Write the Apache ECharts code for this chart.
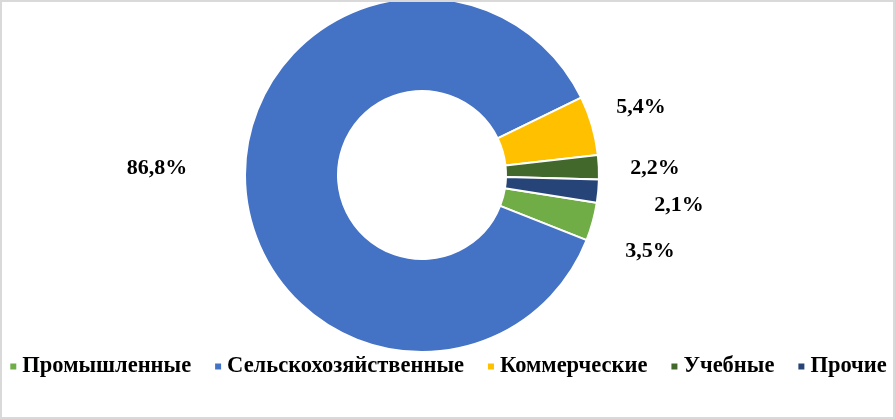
<!DOCTYPE html>
<html>
<head>
<meta charset="utf-8">
<script src="https://cdn.jsdelivr.net/npm/echarts@6/dist/echarts.min.js"></script>
<style>
html, body { margin: 0; padding: 0; background: #fff; }
#main { width: 891px; height: 415px; border: 2px solid #d9d9d9; }
</style>
</head>
<body>
<div id="main"></div>
<script>
// доли площадей по категориям, %
var categories = ['Промышленные', 'Сельскохозяйственные', 'Коммерческие', 'Учебные', 'Прочие'];
var shares = [3.5, 86.8, 5.4, 2.2, 2.1];
var colors = ['#70AD47', '#4472C4', '#FFC000', '#43682B', '#264478'];

// подписи стоят вручную, как в исходной диаграмме
var labelPos = [[648, 249], [155, 166], [639, 105], [653, 166], [677, 203]];

var serif = '"Liberation Serif", "Times New Roman", serif';

var myChart = echarts.init(document.getElementById('main'));
myChart.setOption({
    animation: false,
    color: colors,
    legend: {
        top: 348,
        left: 'center',
        icon: 'rect',
        itemWidth: 8,
        itemHeight: 8,
        itemGap: 22,
        textStyle: { fontFamily: serif, fontWeight: 'bold', fontSize: 22.5, color: '#000' },
        data: categories
    },
    series: [{
        type: 'pie',
        silent: true,
        center: [420, 173],
        radius: [84, 177],
        startAngle: -9,
        clockwise: true,
        avoidLabelOverlap: false,
        itemStyle: { borderColor: '#fff', borderWidth: 2 },
        label: {
            show: true,
            position: 'outside',
            fontFamily: serif,
            fontWeight: 'bold',
            fontSize: 22,
            color: '#000',
            formatter: function (p) {
                return p.value.toFixed(1).replace('.', ',') + '%';
            }
        },
        labelLine: { show: false },
        labelLayout: function (p) {
            var pos = labelPos[p.dataIndex];
            return { x: pos[0], y: pos[1], align: 'center', verticalAlign: 'middle' };
        },
        data: categories.map(function (name, i) {
            return { name: name, value: shares[i] };
        })
    }]
});
</script>
</body>
</html>
